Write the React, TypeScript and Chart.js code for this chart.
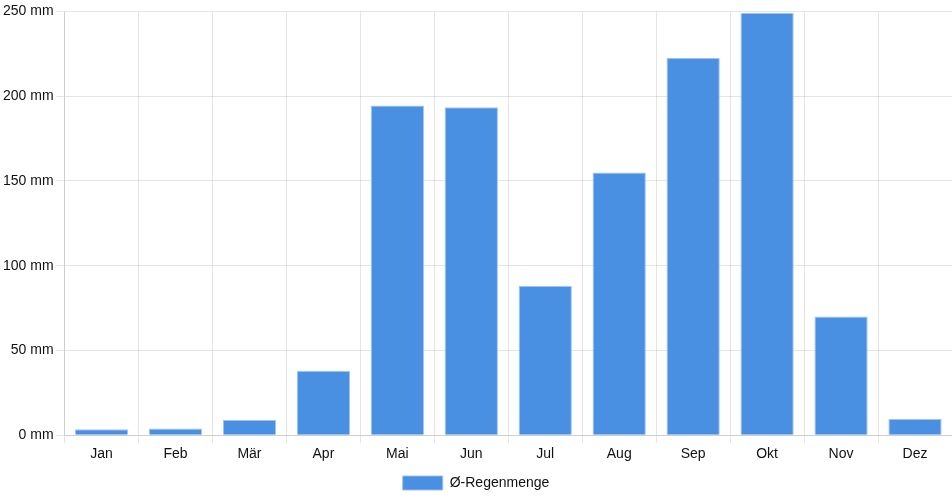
import { useEffect, useRef } from "react"
import { Chart, registerables } from "chart.js"

Chart.register(...registerables)

const months = ["Jan", "Feb", "Mär", "Apr", "Mai", "Jun", "Jul", "Aug", "Sep", "Okt", "Nov", "Dez"]
const rainfall = [3.5, 4, 9, 38, 194.5, 193.5, 88, 155, 222.5, 249, 70, 9.5]
const seriesLabel = "Ø-Regenmenge"

const fontFamily = "'Liberation Sans', Arial, sans-serif"

const App = () => {
  const chartRef = useRef<HTMLCanvasElement>(null)

  useEffect(() => {
    document.body.style.margin = "0"
    if (!chartRef.current) return
    const ctx = chartRef.current.getContext("2d")
    if (!ctx) return

    const chart = new Chart(ctx, {
      type: "bar",
      data: {
        labels: months,
        datasets: [
          {
            label: seriesLabel,
            data: rainfall,
            backgroundColor: "#4a90e2",
            borderColor: "rgba(150, 190, 240, 0.9)",
            borderWidth: 1
          }
        ]
      },
      options: {
        animation: false,
        responsive: false,
        maintainAspectRatio: false,
        plugins: {
          legend: {
            position: "bottom",
            labels: {
              color: "#111",
              font: { family: fontFamily, size: 14 }
            }
          },
          tooltip: { enabled: false }
        },
        scales: {
          x: {
            ticks: {
              color: "#111",
              font: { family: fontFamily, size: 14 }
            },
            grid: { color: "rgba(0,0,0,0.1)" }
          },
          y: {
            min: 0,
            max: 250,
            ticks: {
              stepSize: 50,
              color: "#111",
              font: { family: fontFamily, size: 14 },
              callback: (v) => `${v} mm`
            },
            grid: { color: "rgba(0,0,0,0.1)" }
          }
        }
      }
    })

    return () => {
      chart.destroy()
    }
  }, [])

  return (
    <div style={{ width: 952, height: 500 }}>
      <canvas ref={chartRef} width="952" height="500"></canvas>
    </div>
  )
}

export default App
